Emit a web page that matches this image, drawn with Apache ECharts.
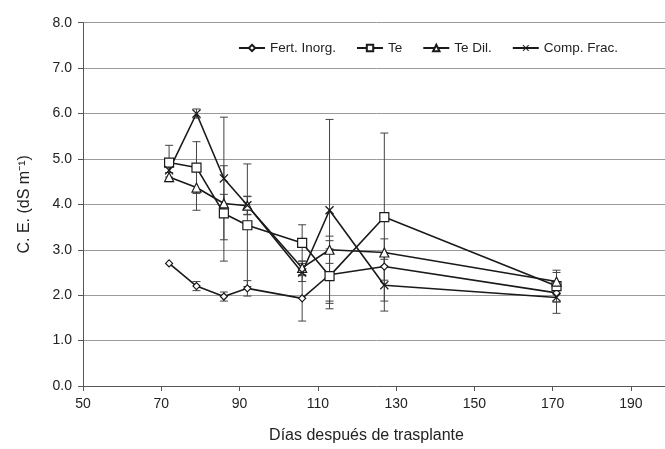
<!DOCTYPE html>
<html>
<head>
<meta charset="utf-8">
<script src="https://cdn.jsdelivr.net/npm/echarts@6/dist/echarts.min.js"></script>
<style>
html,body{margin:0;padding:0;background:#fff;overflow:hidden;width:665px;height:449px;}
#chart{width:720px;height:449px;}
</style>
</head>
<body>
<div id="chart"></div>
<script>
const days = [72, 79, 86, 92, 106, 113, 127, 171];
const fertInorg = [2.7, 2.2, 1.97, 2.15, 1.93, 2.45, 2.63, 2.05];
const fertInorgErr = [0, 0.1, 0.1, 0.17, 0.5, 0.75, 0.3, 0.2];
const te = [4.92, 4.81, 3.8, 3.54, 3.15, 2.42, 3.72, 2.2];
const teErr = [0.38, 0.57, 1.05, 1.35, 0.4, 0.6, 1.85, 0.35];
const teDil = [4.6, 4.37, 4.02, 3.97, 2.6, 3.0, 2.94, 2.3];
const teDilErr = [0.1, 0.5, 0.2, 0.2, 0.15, 0.3, 0.3, 0.2];
const compFrac = [4.75, 6.0, 4.57, 3.98, 2.5, 3.87, 2.22, 1.95];
const compFracErr = [0.15, 0.1, 1.35, 0.2, 0.2, 2.0, 0.57, 0.35];
const seriesNames = ['Fert. Inorg.', 'Te', 'Te Dil.', 'Comp. Frac.'];
const xTicks = {min: 50, max: 200, interval: 20};
const yTicks = {min: 0, max: 8, interval: 1};

const FONT = '"Liberation Sans", Arial, sans-serif';
const xSym = 'path://M0,1L1,0L5,4L9,0L10,1L6,5L10,9L9,10L5,6L1,10L0,9L4,5Z';
const symbols = ['diamond', 'rect', 'triangle', xSym];
const sizes = [7, 9, 9, 9];
const values = [fertInorg, te, teDil, compFrac];
const errs = [fertInorgErr, teErr, teDilErr, compFracErr];

function pairs(arr) { return days.map((d, i) => [d, arr[i]]); }
function errData(arr, err) { return days.map((d, i) => [d, arr[i], err[i]]); }

const series = [];
values.forEach((arr, k) => {
  series.push({
    type: 'custom',
    name: seriesNames[k] + ' err',
    z: 1,
    silent: true,
    data: errData(arr, errs[k]),
    renderItem: function (params, api) {
      const x = api.value(0), y = api.value(1), e = api.value(2);
      if (!e) return null;
      const hi = api.coord([x, y + e]);
      const lo = api.coord([x, y - e]);
      const w = 4;
      const st = {stroke: '#444', lineWidth: 1};
      return {
        type: 'group',
        children: [
          {type: 'line', shape: {x1: hi[0], y1: hi[1], x2: lo[0], y2: lo[1]}, style: st},
          {type: 'line', shape: {x1: hi[0] - w, y1: hi[1], x2: hi[0] + w, y2: hi[1]}, style: st},
          {type: 'line', shape: {x1: lo[0] - w, y1: lo[1], x2: lo[0] + w, y2: lo[1]}, style: st}
        ]
      };
    }
  });
});
values.forEach((arr, k) => {
  series.push({
    type: 'line',
    name: seriesNames[k],
    z: 3,
    data: pairs(arr),
    symbol: symbols[k],
    symbolSize: sizes[k],
    showAllSymbol: true,
    lineStyle: {color: '#1a1a1a', width: 1.6},
    itemStyle: k === 3 ? {color: '#1a1a1a', borderColor: '#1a1a1a', borderWidth: 0}
                       : {color: '#fff', borderColor: '#1a1a1a', borderWidth: 1.2},
    emphasis: {disabled: true}
  });
});

const chart = echarts.init(document.getElementById('chart'), null, {renderer: 'canvas'});
chart.setOption({
  animation: false,
  backgroundColor: '#fff',
  textStyle: {fontFamily: FONT},
  grid: {left: 83, right: 50, top: 22.7, bottom: 59.5, containLabel: false},
  legend: {
    data: seriesNames,
    top: 36, left: 233,
    itemWidth: 26, itemHeight: 8, itemGap: 20,
    textStyle: {fontFamily: FONT, fontSize: 13.5, color: '#222'}
  },
  xAxis: {
    type: 'value', min: xTicks.min, max: xTicks.max, interval: xTicks.interval,
    name: 'Días después de trasplante', nameLocation: 'middle', nameGap: 42,
    nameTextStyle: {fontFamily: FONT, fontSize: 16, color: '#222', padding: [0, 20, 0, 0]},
    axisLine: {lineStyle: {color: '#555', width: 1}},
    axisTick: {show: true, inside: false, length: 5, lineStyle: {color: '#555'}},
    axisLabel: {fontFamily: FONT, fontSize: 14, color: '#222', margin: 11,
      formatter: v => (v - xTicks.min) % xTicks.interval === 0 ? String(v) : ''},
    splitLine: {show: false}
  },
  yAxis: {
    type: 'value', min: yTicks.min, max: yTicks.max, interval: yTicks.interval,
    name: 'C. E. (dS m⁻¹)', nameLocation: 'middle', nameGap: 50, nameRotate: 90,
    nameTextStyle: {fontFamily: FONT, fontSize: 16, color: '#222'},
    axisLine: {show: true, lineStyle: {color: '#555', width: 1}},
    axisTick: {show: true, inside: false, length: 5, lineStyle: {color: '#555'}},
    axisLabel: {fontFamily: FONT, fontSize: 14, color: '#222', margin: 11,
      formatter: v => v.toFixed(1)},
    splitLine: {show: true, lineStyle: {color: '#9a9a9a', width: 1}}
  },
  series: series
});
</script>
</body>
</html>
